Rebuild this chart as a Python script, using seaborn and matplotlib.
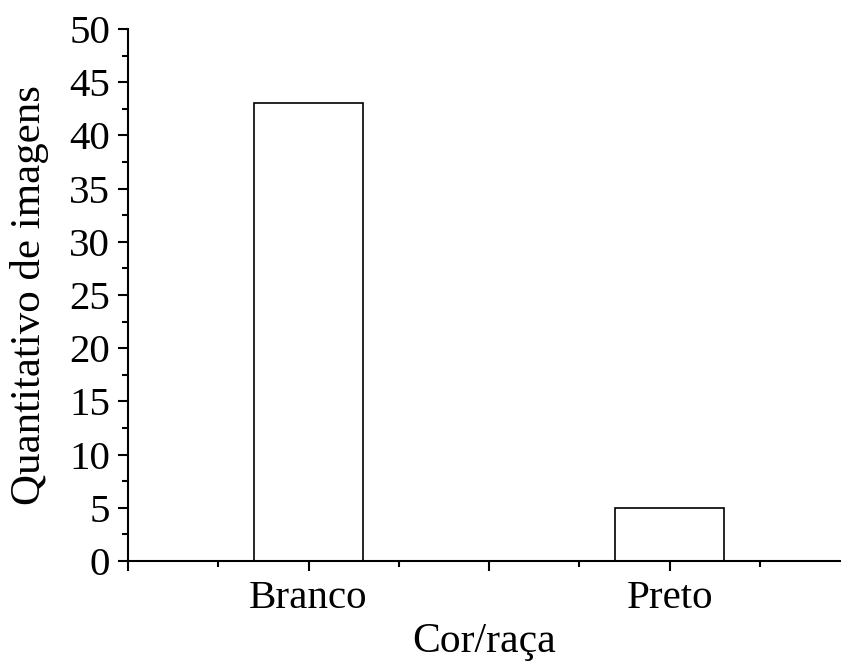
import pandas as pd
import matplotlib
matplotlib.use('Agg')
import matplotlib.pyplot as plt
import seaborn as sns
from matplotlib.ticker import FixedLocator, MultipleLocator

# dados
categorias = ['Branco', 'Preto']
quantidade = [43, 5]

df = pd.DataFrame({'Cor/raça': categorias, 'Quantitativo': quantidade})

sns.set_style('ticks')
plt.rcParams['font.family'] = ['Liberation Serif', 'DejaVu Serif']
plt.rcParams['text.color'] = 'black'
plt.rcParams['axes.labelcolor'] = 'black'

fig = plt.figure(figsize=(8.41, 6.61), dpi=100)
ax = fig.add_axes([128 / 841, 100 / 661, 1 - 128 / 841, (561 - 29) / 661])

sns.barplot(data=df, x='Cor/raça', y='Quantitativo', order=categorias,
            color='white', edgecolor='black', linewidth=1.2, width=0.3,
            saturation=1, ax=ax)

ax.set_ylim(0, 50)
ax.set_xlim(-0.5, 1.475)
ax.yaxis.set_major_locator(MultipleLocator(5))
ax.yaxis.set_minor_locator(MultipleLocator(2.5))

# ticks no eixo x: maiores a cada 0.5, menores a cada 0.25, rótulos só nas categorias
ax.xaxis.set_major_locator(FixedLocator([-0.5, 0, 0.5, 1, 1.5]))
ax.xaxis.set_minor_locator(FixedLocator([-0.25, 0.25, 0.75, 1.25]))
ax.set_xticklabels(['', 'Branco', '', 'Preto', ''])

ax.tick_params(axis='both', which='major', direction='out', length=7.5, width=1.5,
               labelsize=29.5, colors='black')
ax.tick_params(axis='y', which='major', pad=5.5)
ax.tick_params(axis='x', which='major', pad=6)
ax.tick_params(axis='both', which='minor', direction='out', length=4, width=1.5,
               colors='black')

for s in ['top', 'right']:
    ax.spines[s].set_visible(False)
for s in ['left', 'bottom']:
    ax.spines[s].set_linewidth(1.5)
    ax.spines[s].set_color('black')

ax.set_xlabel('Cor/raça', fontsize=30, labelpad=4, color='black')
ax.set_ylabel('Quantitativo de imagens', fontsize=31, labelpad=14, color='black')

fig.savefig('out.png', dpi=100)
